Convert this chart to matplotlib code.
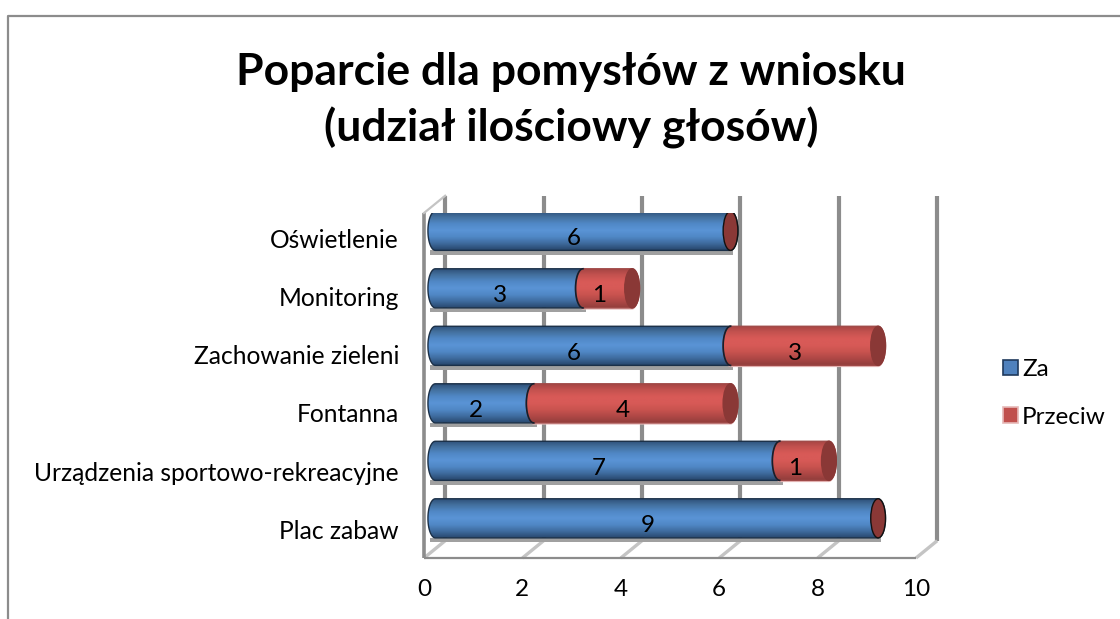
import numpy as np
import matplotlib
matplotlib.use("Agg")
import matplotlib.pyplot as plt
from matplotlib.colors import LinearSegmentedColormap
from matplotlib.patches import Polygon, Ellipse, Patch
from matplotlib.lines import Line2D

categories = ["Plac zabaw", "Urządzenia sportowo-rekreacyjne", "Fontanna",
              "Zachowanie zieleni", "Monitoring", "Oświetlenie"]
za = [9, 7, 2, 6, 3, 6]
przeciw = [0, 1, 4, 3, 1, 0]
xticks = [0, 2, 4, 6, 8, 10]
title = "Poparcie dla pomysłów z wniosku\n(udział ilościowy głosów)"
series_names = ["Za", "Przeciw"]

FONT = "Lato"
plt.rcParams["font.family"] = [FONT, "DejaVu Sans"]
W, H = 1120, 619
fig = plt.figure(figsize=(W / 100, H / 100), dpi=100, facecolor="white")
L, R, T, B = 424, 916, 213, 558
ax = fig.add_axes([L / W, 1 - B / H, (R - L) / W, (B - T) / H])
ax.set_xlim(0, 10)
ax.set_ylim(-0.5, 5.5)
ax.patch.set_visible(False)
for s in ax.spines.values():
    s.set_visible(False)

GRAY = "#8c8c8c"
LIGHT = "#c4c4c4"
BACKX, BACKY = 0.43, 0.30      # back wall depth offset
BARX, BARY = 0.23, 0.19        # bar depth offset
HALF_H, HALF_W = 0.34, 0.15    # cylinder half height and cap half width

# walls, grid and floor
for v in xticks:
    ax.plot([v + BACKX] * 2, [-0.5 + BACKY, 5.5 + BACKY], color=GRAY, lw=3.0,
            solid_capstyle="butt", zorder=1, clip_on=False)
    ax.plot([v, v + BACKX], [-0.5, -0.5 + BACKY], color=LIGHT, lw=2.4,
            solid_capstyle="butt", zorder=1, clip_on=False)
ax.plot([0, 0], [-0.5, 5.5], color=GRAY, lw=2.6, solid_capstyle="butt", zorder=1,
        clip_on=False)
ax.plot([0, BACKX], [5.5, 5.5 + BACKY], color=LIGHT, lw=1.6, zorder=1, clip_on=False)
ax.plot([0, 10], [-0.5, -0.5], color=GRAY, lw=1.6, solid_capstyle="butt", zorder=4,
        clip_on=False)

blue_cm = LinearSegmentedColormap.from_list(
    "b", ["#2c4d75", "#44719f", "#5088c6", "#5a94d6", "#5088c6", "#3f6c9f", "#28486e"])
red_cm = LinearSegmentedColormap.from_list(
    "r", ["#a34442", "#c4524f", "#d85a57", "#d85a57", "#c9534f", "#b04846", "#923e3c"])
grad = np.linspace(0, 1, 64).reshape(-1, 1)


def outline(x0, x1, yc):
    t = np.linspace(np.pi / 2, 3 * np.pi / 2, 30)
    left = np.c_[x0 + HALF_W * np.cos(t), yc + HALF_H * np.sin(t)]
    t2 = np.linspace(-np.pi / 2, np.pi / 2, 30)
    right = np.c_[x1 + HALF_W * np.cos(t2), yc + HALF_H * np.sin(t2)]
    return np.vstack([left, right])


def cylinder(x0, x1, yc, cm, z, edge):
    poly = Polygon(outline(x0, x1, yc), closed=True, facecolor="none",
                   edgecolor=edge, lw=1.0, zorder=z + 0.5)
    ax.add_patch(poly)
    im = ax.imshow(grad, cmap=cm, aspect="auto", zorder=z, origin="upper",
                   extent=[x0 - HALF_W, x1 + HALF_W, yc - HALF_H, yc + HALF_H])
    im.set_clip_path(poly)


for i, (a, b) in enumerate(zip(za, przeciw)):
    yc = i + BARY
    xs = BARX
    # soft drop shadow under the bar
    ax.fill_between([xs - 0.1, xs + a + 0.06], yc - HALF_H - 0.075, yc - HALF_H,
                    color="#a0a0a0", lw=0, zorder=2)
    cylinder(xs, xs + a, yc, blue_cm, 3, "#1b3048")
    if b > 0:
        ax.add_patch(Polygon(outline(xs + a, xs + a + b, yc - 0.03), closed=True,
                             facecolor="#e6b9b8", edgecolor="none", zorder=2.8))
        cylinder(xs + a, xs + a + b, yc, red_cm, 5, "#a04a48")
        # seam between the two segments
        t = np.linspace(np.pi / 2, 3 * np.pi / 2, 30)
        ax.plot(xs + a + HALF_W * np.cos(t), yc + HALF_H * np.sin(t),
                color="#14202e", lw=1.2, zorder=6)
    ax.add_patch(Ellipse((xs + a + b, yc), 2 * HALF_W, 2 * HALF_H,
                         facecolor="#8a3836",
                         edgecolor="#8a3836" if b > 0 else "#111111",
                         lw=1.0, zorder=7))
    ax.text(a / 2 + 0.05, i + 0.06, str(a), ha="center", va="center",
            fontsize=17.5, color="black", zorder=8)
    if b > 0:
        ax.text(a + b / 2 + 0.05, i + 0.06, str(b), ha="center", va="center",
                fontsize=17.5, color="black", zorder=8)

ax.set_xlim(0, 10)
ax.set_ylim(-0.5, 5.5)
ax.set_xticks(xticks, [str(v) for v in xticks])
ax.set_yticks([i * 1.012 for i in range(len(categories))], categories)
ax.tick_params(axis="both", length=0, labelsize=17.5, labelcolor="black")
ax.tick_params(axis="x", pad=15)
ax.tick_params(axis="y", pad=18)
for lab in ax.get_yticklabels():
    lab.set_fontsize(17.7)

fig.text(571 / W, 1 - 100.5 / H, title, ha="center", va="center", fontsize=32,
         fontweight="bold", color="black", linespacing=1.45)

handles = [Patch(facecolor="#4f81bd", edgecolor="#1f3a5c", lw=1.2),
           Patch(facecolor="#c0504d", edgecolor="#e6b9b8", lw=1.2)]
fig.legend(handles, series_names, loc="center left",
           bbox_to_anchor=(1003 / W, 1 - 393.5 / H), frameon=False, fontsize=17.5,
           handlelength=0.62, handleheight=0.62, handletextpad=0.16,
           labelspacing=1.1, borderpad=0, borderaxespad=0)

# chart frame (left and top edges)
fig.add_artist(Line2D([8 / W, 8 / W, 1], [0, 1 - 16 / H, 1 - 16 / H],
                      color=GRAY, lw=1.6, transform=fig.transFigure))

fig.savefig("out.png", dpi=100, facecolor="white")
